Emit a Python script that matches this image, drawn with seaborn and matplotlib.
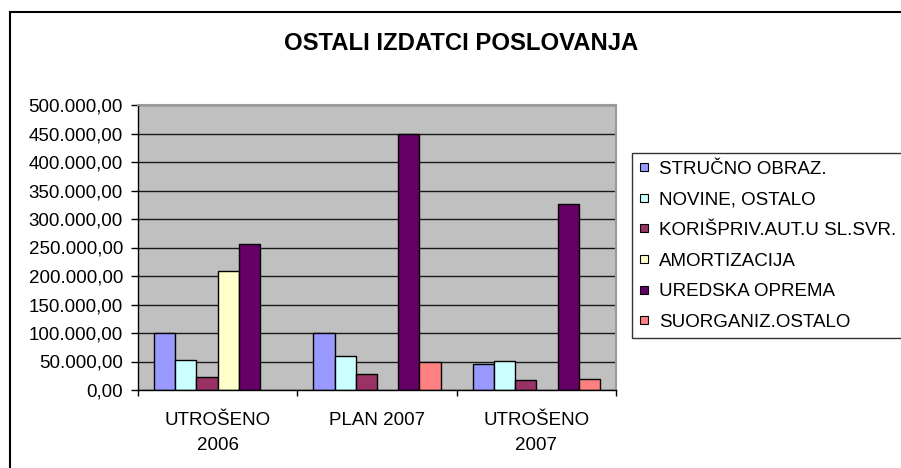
import pandas as pd
import matplotlib
matplotlib.use('Agg')
import matplotlib.pyplot as plt
import matplotlib.ticker as mticker
from matplotlib.lines import Line2D
from matplotlib.patches import Rectangle
import seaborn as sns

plt.rcParams['font.family'] = ['Liberation Sans', 'DejaVu Sans']

# Data
periods = ['UTROŠENO\n2006', 'PLAN 2007', 'UTROŠENO\n2007']
items = ['STRUČNO OBRAZ.', 'NOVINE, OSTALO', 'KORIŠPRIV.AUT.U SL.SVR.',
         'AMORTIZACIJA', 'UREDSKA OPREMA', 'SUORGANIZ.OSTALO']
strucno = [100000, 100000, 46000]
novine = [52000, 60000, 51500]
korisp = [23500, 28000, 18000]
amort = [209000, 0, 0]
uredska = [256000, 449000, 326000]
suorg = [0, 49500, 19500]
colors = ['#9999FF', '#CCFFFF', '#993366', '#FFFFCC', '#660066', '#FF8080']

series = [strucno, novine, korisp, amort, uredska, suorg]
rows = []
for item, vals in zip(items, series):
    for period, v in zip(periods, vals):
        if v > 0:
            rows.append({'period': period, 'item': item, 'value': v})
df = pd.DataFrame(rows)

fig = plt.figure(figsize=(9.01, 4.68), dpi=100)
ax = fig.add_axes([138 / 901, 78 / 468, 478 / 901, 285 / 468])
ax.set_facecolor('#C0C0C0')

sns.barplot(data=df, x='period', y='value', hue='item', order=periods,
            hue_order=items, palette=colors, saturation=1, edgecolor='black',
            linewidth=1, width=0.8, errorbar=None, legend=False, ax=ax)

ax.set_xlim(-0.5, 2.5)
ax.set_ylim(0, 500000)
ax.set_xlabel('')
ax.set_ylabel('')

# y axis
ax.yaxis.set_major_locator(mticker.MultipleLocator(50000))
ax.yaxis.set_major_formatter(mticker.FuncFormatter(
    lambda v, p: f'{v:,.2f}'.replace(',', ' ').replace('.', ',').replace(' ', '.')))
ax.tick_params(axis='y', direction='out', length=4.8, width=1, pad=6,
               labelsize=13.5, colors='black')
ax.grid(axis='y', color='#1a1a1a', linewidth=1)
ax.set_axisbelow(True)

# x axis: labels at centers, ticks between categories
ax.set_xticks([0, 1, 2])
ax.set_xticklabels(periods, fontsize=13.5, linespacing=1.6)
ax.tick_params(axis='x', which='major', length=0, pad=16)
ax.set_xticks([-0.5, 0.5, 1.5, 2.5], minor=True)
ax.tick_params(axis='x', which='minor', direction='out', length=4.3, width=1)

for side in ['left', 'bottom']:
    ax.spines[side].set_color('black')
    ax.spines[side].set_linewidth(1)
for side in ['top', 'right']:
    ax.spines[side].set_color('#9a9a9a')
    ax.spines[side].set_linewidth(1.5)

# legend
handles = [Line2D([], [], marker='s', linestyle='none', markersize=6,
                  markerfacecolor=c, markeredgecolor='black',
                  markeredgewidth=0.8) for c in colors]
leg = fig.legend(handles, items, loc='upper left',
                 bbox_to_anchor=(632 / 901, 1 - 153 / 468),
                 fontsize=13.5, frameon=True, fancybox=False,
                 handlelength=0.5, handletextpad=0.55,
                 labelspacing=0.72, borderpad=0.4, borderaxespad=0)
leg.get_frame().set_edgecolor('black')
leg.get_frame().set_linewidth(1)

fig.text(461.5 / 901, 1 - 43 / 468, 'OSTALI IZDATCI POSLOVANJA',
         ha='center', va='center', fontsize=17.2, fontweight='bold')

# outer chart border (runs off the right and bottom edges)
fig.patches.append(Rectangle((10 / 901, -0.1), 1.2, 1.1 - 12 / 468,
                             transform=fig.transFigure, fill=False,
                             edgecolor='black', linewidth=1.5))

fig.savefig('out.png', dpi=100, facecolor='white')
